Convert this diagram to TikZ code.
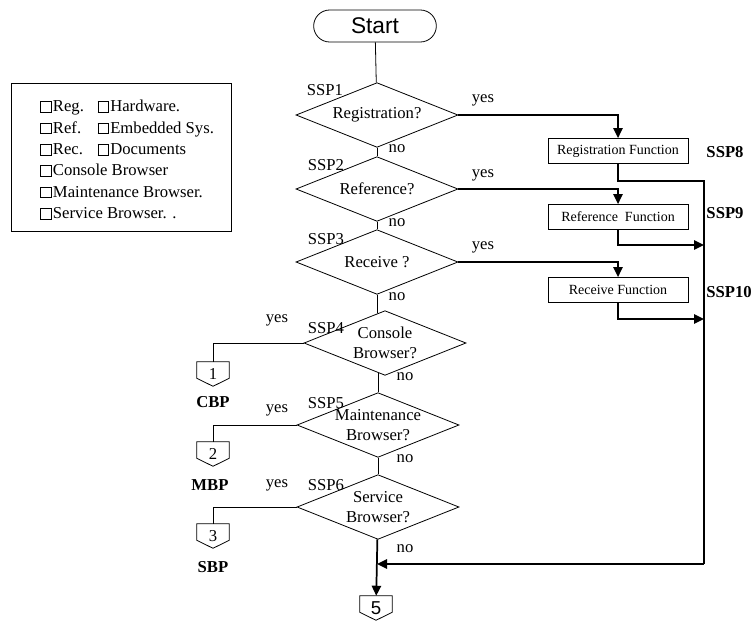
\documentclass[tikz,border=0pt]{standalone}
\usepackage{fontspec}
\setmainfont{Liberation Serif}
\setsansfont{Liberation Sans}
\usetikzlibrary{shapes.geometric, arrows.meta}

\newcommand{\chk}{{\setlength{\fboxsep}{0pt}\setlength{\fboxrule}{0.5pt}\fbox{\rule{0pt}{0.6em}\hspace{0.6em}}}\kern1pt}
\newcommand{\offpageline}[1]{\draw[flow] (#1.north west) -- (#1.north east) -- ([yshift=6pt]#1.south east) -- (#1.south) -- ([yshift=6pt]#1.south west) -- cycle;}

\begin{document}
\begin{tikzpicture}[x=0.75pt, y=-0.75pt, font=\fontsize{12.5}{15}\selectfont,
    decision/.style={draw, shape=diamond, aspect=2.5, inner xsep=-12pt, inner ysep=-6pt, minimum width=121.5pt, minimum height=48.5pt, align=center, line width=0.6pt},
    func/.style={draw, rectangle, minimum width=105pt, minimum height=18.75pt, inner sep=0pt, line width=0.6pt, font=\fontsize{10.5}{12}\selectfont},
    offpage/.style={minimum width=24pt, minimum height=18pt, inner sep=0pt},
    flow/.style={line width=0.6pt},
    mainflow/.style={line width=1.3pt, -{Triangle[length=7.5pt,width=7pt]}},
    lbl/.style={inner sep=0pt},
    boldlbl/.style={inner sep=0pt, font=\fontsize{12.5}{15}\selectfont\bfseries}]
    \useasboundingbox (0,0) rectangle (753,622);

    % legend
    \node[draw, line width=0.8pt, anchor=north west, minimum width=165pt, minimum height=111pt, inner sep=0pt] (legend) at (11,83) {};
    \node[anchor=north west, align=left, inner sep=0pt, font=\fontsize{12.5}{16}\selectfont] (legendtext) at (40,100)
        {\makebox[43pt][l]{\chk Reg.}\chk Hardware.\\
         \makebox[43pt][l]{\chk Ref.}\chk Embedded Sys.\\
         \makebox[43pt][l]{\chk Rec.}\chk Documents\\
         \chk Console Browser\\
         \chk Maintenance Browser.\\
         \chk Service Browser. .};

    % main column
    \node[draw, rounded corners=12pt, minimum width=92pt, minimum height=24pt, line width=0.6pt, font=\sffamily\fontsize{17}{20}\selectfont] (start) at (375,26) {Start};
    \node[decision] (reg) at (377,115) {Registration?};
    \node[decision] (ref) at (377,189) {Reference?};
    \node[decision] (rec) at (377,262) {Receive ?};
    \node[decision] (con) at (385,343) {Console\\Browser?};
    \node[decision] (mnt) at (378,425) {Maintenance\\Browser?};
    \node[decision] (srv) at (378,507) {Service\\Browser?};
    \node[offpage, font=\sffamily\fontsize{14}{16}\selectfont] (sfive) at (376,608) {5};

    % functions
    \node[func] (regf) at (618,151) {Registration Function};
    \node[func] (reff) at (618,217) {Reference~~Function};
    \node[func] (recf) at (618,290) {Receive Function};

    % off-page connectors
    \node[offpage] (cbp) at (213,374) {1};
    \node[offpage] (mbp) at (213,454) {2};
    \node[offpage] (sbp) at (213,536) {3};
    \offpageline{cbp}
    \offpageline{mbp}
    \offpageline{sbp}
    \offpageline{sfive}

    % labels
    \node[lbl] (ssp1) at (325,90) {SSP1};
    \node[lbl] (ssp2) at (326,165) {SSP2};
    \node[lbl] (ssp3) at (326,239) {SSP3};
    \node[lbl] (ssp4) at (326,328) {SSP4};
    \node[lbl] (ssp5) at (326,403) {SSP5};
    \node[lbl] (ssp6) at (326,485) {SSP6};
    \node[boldlbl] (ssp8) at (725,152) {SSP8};
    \node[boldlbl] (ssp9) at (725,213) {SSP9};
    \node[boldlbl] (ssp10) at (729,292) {SSP10};
    \node[lbl] (yes1) at (483,100) {yes};
    \node[lbl] (yes2) at (483,175) {yes};
    \node[lbl] (yes3) at (483,247) {yes};
    \node[lbl] (yes4) at (277,320) {yes};
    \node[lbl] (yes5) at (277,410) {yes};
    \node[lbl] (yes6) at (277,485) {yes};
    \node[lbl] (no1) at (397,149) {no};
    \node[lbl] (no2) at (397,223) {no};
    \node[lbl] (no3) at (397,297) {no};
    \node[lbl] (no4) at (405,377) {no};
    \node[lbl] (no5) at (405,459) {no};
    \node[lbl] (no6) at (405,549) {no};
    \node[boldlbl] (cbpl) at (213,402) {CBP};
    \node[boldlbl] (mbpl) at (210,485) {MBP};
    \node[boldlbl] (sbpl) at (213,567) {SBP};

    \coordinate (busA) at (704,181);
    \coordinate (busB) at (704,564);
    \coordinate (join) at (377,564);
    \coordinate (refm) at (704,245);
    \coordinate (recm) at (704,319);

    % connectors
    \draw[flow] (start) -- (reg);
    \draw[flow] (reg) -- (ref);
    \draw[flow] (ref) -- (rec);
    \draw[flow] (rec.south) -- ([yshift=-2.4pt]rec.south |- con.north);
    \draw[flow] ([yshift=2.1pt]con.south -| mnt.north) -- (mnt.north);
    \draw[flow] (mnt) -- (srv);
    \draw[mainflow] (srv) -- (sfive);

    \draw[flow] (con.west) -| (cbp.north);
    \draw[flow] (mnt.west) -| (mbp.north);
    \draw[flow] (srv.west) -| (sbp.north);

    \draw[mainflow] (reg.east) -| (regf.north);
    \draw[mainflow] (ref.east) -| (reff.north);
    \draw[mainflow] (rec.east) -| (recf.north);

    \draw[line width=0.8pt] (regf.south) |- (busA) -- (busB);
    \draw[mainflow] (busB) -- (join);
    \draw[mainflow] (reff.south) |- (refm);
    \draw[mainflow] (recf.south) |- (recm);
\end{tikzpicture}
\end{document}
